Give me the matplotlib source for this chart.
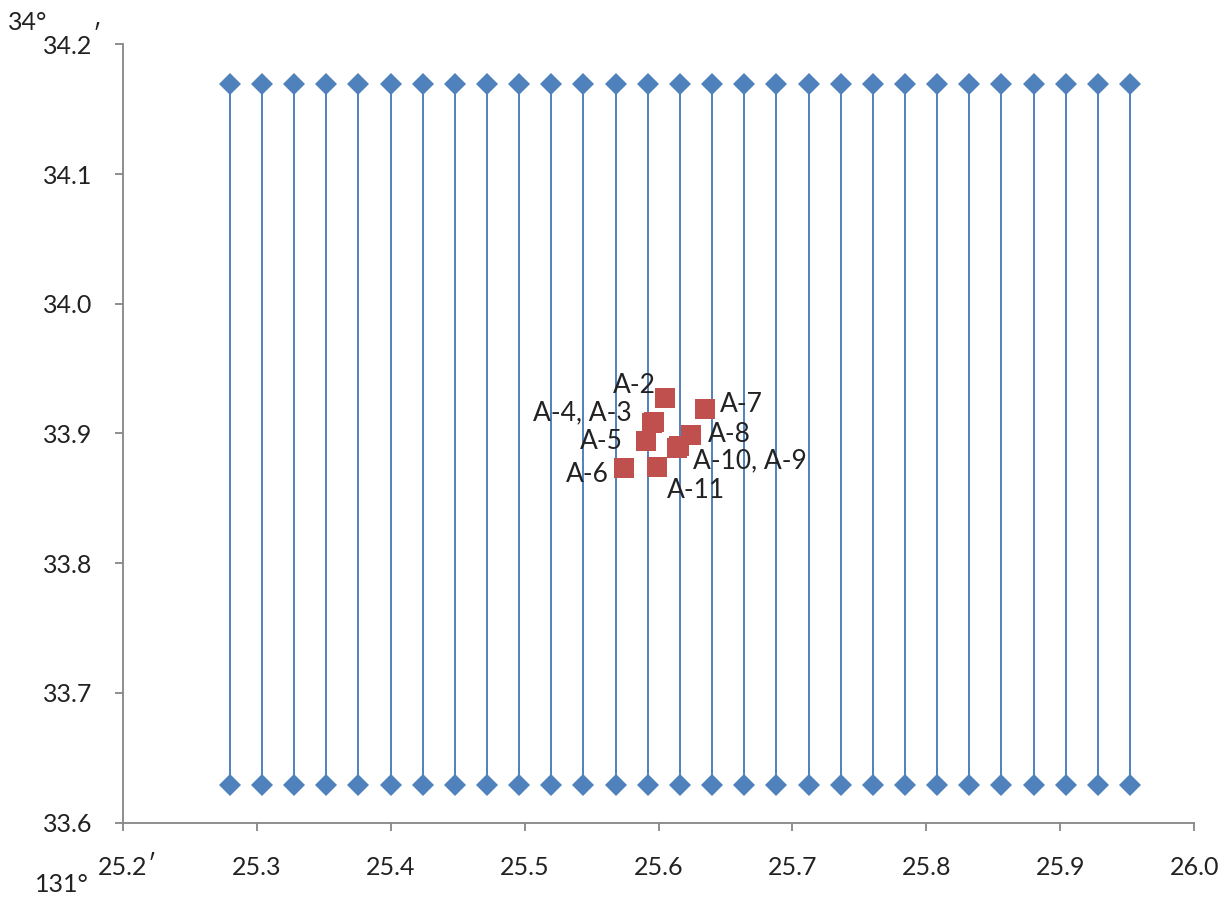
import matplotlib
matplotlib.use("Agg")
from matplotlib import pyplot as plt

# survey lines (longitude minutes), top and bottom latitude minutes
line_x = [25.280, 25.304, 25.328, 25.352, 25.376, 25.400, 25.424, 25.448, 25.472, 25.496,
          25.520, 25.544, 25.568, 25.592, 25.616, 25.640, 25.664, 25.688, 25.712, 25.736,
          25.760, 25.784, 25.808, 25.832, 25.856, 25.880, 25.904, 25.928, 25.952]
line_top = 34.169
line_bottom = 33.629

# sampling stations
st_names = ["A-2", "A-3", "A-4", "A-5", "A-6", "A-7", "A-8", "A-9", "A-10", "A-11"]
st_x = [25.605, 25.595, 25.597, 25.591, 25.574, 25.635, 25.624, 25.615, 25.614, 25.599]
st_y = [33.927, 33.908, 33.909, 33.894, 33.873, 33.919, 33.899, 33.890, 33.889, 33.874]

labels = ["A-2", "A-4, A-3", "A-7", "A-5", "A-8", "A-10, A-9", "A-6", "A-11"]
label_at = ["A-2", "A-3", "A-7", "A-5", "A-8", "A-10", "A-6", "A-11"]
label_off = [(-9, 13, "right"), (-20, 10, "right"), (15, 4, "left"), (-24, 0, "right"),
             (17, 0, "left"), (16, -13, "left"), (-15, -6, "right"), (10, -23, "left")]

blue = "#4F81BD"
red = "#C0504D"
grey = "#868686"
txt = "#222222"
plt.rcParams['font.family'] = ['Lato', 'DejaVu Sans']

fig = plt.figure(figsize=(12.28, 8.98), dpi=100)
ax = fig.add_axes([0.0999, 0.0839, 0.8727, 0.8668])

for x in line_x:
    ax.plot([x, x], [line_bottom, line_top], color=blue, lw=1.4, marker="D", ms=11.5,
            markeredgewidth=0, zorder=2)

ax.scatter(st_x, st_y, marker="s", s=15**2, color=red, linewidths=0, zorder=3)

for lab, key, (dx, dy, ha) in zip(labels, label_at, label_off):
    i = st_names.index(key)
    ax.annotate(lab, (st_x[i], st_y[i]), xytext=(dx, dy), textcoords="offset pixels",
                ha=ha, va="center", fontsize=19, color=txt, zorder=4)

ax.set_xlim(25.2, 26.0)
ax.set_ylim(33.6, 34.2)
ax.set_xticks([25.2, 25.3, 25.4, 25.5, 25.6, 25.7, 25.8, 25.9, 26.0])
ax.set_xticklabels(["25.2", "25.3", "25.4", "25.5", "25.6", "25.7", "25.8", "25.9", "26.0"])
ax.set_yticks([33.6, 33.7, 33.8, 33.9, 34.0, 34.1, 34.2])
ax.set_yticklabels(["33.6", "33.7", "33.8", "33.9", "34.0", "34.1", "34.2"])

for side in ["top", "right"]:
    ax.spines[side].set_visible(False)
for side in ["left", "bottom"]:
    ax.spines[side].set_color(grey)
    ax.spines[side].set_linewidth(1.3)
ax.tick_params(axis="x", direction="out", length=6, width=1.3, color=grey, pad=18,
               labelsize=18, labelcolor=txt)
ax.tick_params(axis="y", direction="out", length=6, width=1.3, color=grey, pad=16,
               labelsize=18, labelcolor=txt)

# degree / minute marks around the axis labels
fig.text(8 / 1228, 1 - 22 / 898, "34°", fontsize=18, color=txt, va="center", ha="left")
fig.text(93 / 1228, 1 - 34 / 898, "′", fontsize=18, color=txt, va="center", ha="left")
fig.text(35 / 1228, 1 - 884 / 898, "131°", fontsize=18, color=txt, va="center", ha="left")
fig.text(148 / 1228, 1 - 864 / 898, "′", fontsize=18, color=txt, va="center", ha="left")

fig.savefig("out.png", dpi=100)
